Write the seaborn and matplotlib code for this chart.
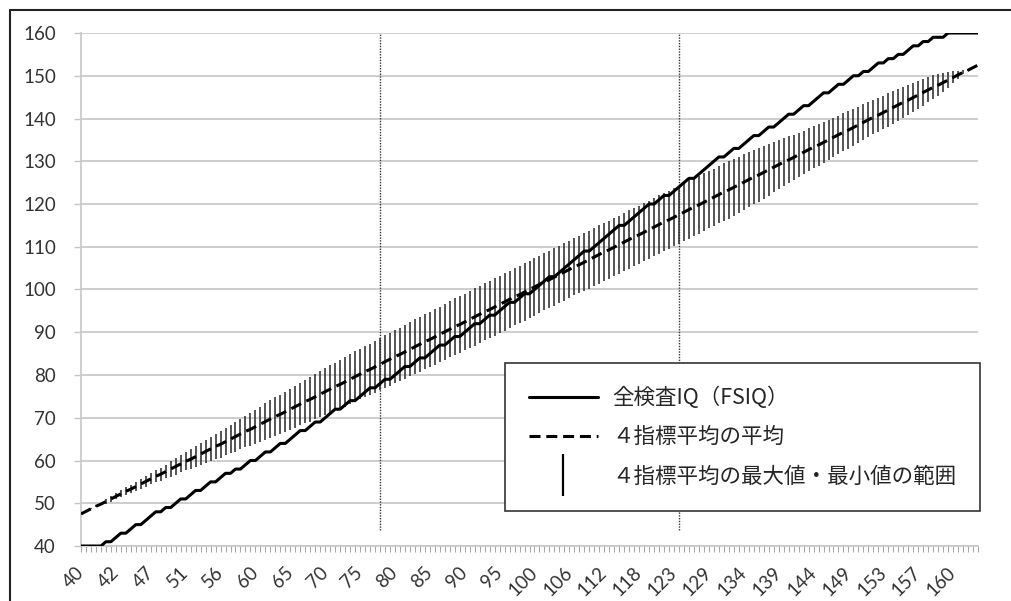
import numpy as np
import pandas as pd
import matplotlib
matplotlib.use('Agg')
import matplotlib.pyplot as plt
from matplotlib.lines import Line2D
from matplotlib.ticker import FixedLocator
import seaborn as sns

# one category per sum of scaled scores (10 .. 190)
sum_scores = list(range(10, 191))

# full scale IQ for each category
fsiq = [40, 40, 40, 40, 40, 41, 41, 42,
        43, 43, 44, 45, 45, 46, 47,
        48, 48, 49, 49, 50, 51, 51,
        52, 53, 53, 54, 55, 55, 56,
        57, 57, 58, 58, 59, 60, 60,
        61, 62, 62, 63, 64, 64, 65,
        66, 67, 67, 68, 69, 69, 70,
        71, 72, 72, 73, 74, 74, 75,
        76, 77, 77, 78, 79, 79, 80,
        81, 82, 82, 83, 84, 84, 85,
        86, 87, 87, 88, 89, 89, 90,
        91, 92, 92, 93, 94, 94, 95,
        96, 97, 97, 98, 99, 99, 100,
        101, 102, 103, 103, 104, 105, 106,
        107, 108, 109, 109, 110, 111, 112,
        113, 114, 115, 115, 116, 117, 118,
        119, 120, 120, 121, 122, 122, 123,
        124, 125, 126, 126, 127, 128, 129,
        130, 131, 131, 132, 133, 133, 134,
        135, 136, 136, 137, 138, 138, 139,
        140, 141, 141, 142, 143, 143, 144,
        145, 146, 146, 147, 148, 148, 149,
        150, 150, 151, 151, 152, 153, 153,
        154, 154, 155, 155, 156, 157, 157,
        158, 158, 159, 159, 159, 160, 160,
        160, 160, 160, 160, 160]

# mean of the four index means
idx_mean = [47.5, 48.1, 48.7, 49.3, 49.8, 50.4, 51.0, 51.6, 52.2, 52.8,
            53.3, 53.9, 54.5, 55.1, 55.7, 56.3, 56.8, 57.4, 58.0, 58.6,
            59.2, 59.8, 60.3, 60.9, 61.5, 62.1, 62.7, 63.3, 63.8, 64.4,
            65.0, 65.6, 66.2, 66.8, 67.3, 67.9, 68.5, 69.1, 69.7, 70.3,
            70.8, 71.4, 72.0, 72.6, 73.2, 73.8, 74.3, 74.9, 75.5, 76.1,
            76.7, 77.3, 77.8, 78.4, 79.0, 79.6, 80.2, 80.8, 81.3, 81.9,
            82.5, 83.1, 83.7, 84.3, 84.8, 85.4, 86.0, 86.6, 87.2, 87.8,
            88.3, 88.9, 89.5, 90.1, 90.7, 91.3, 91.8, 92.4, 93.0, 93.6,
            94.2, 94.8, 95.3, 95.9, 96.5, 97.1, 97.7, 98.3, 98.8, 99.4,
            100.0, 100.6, 101.2, 101.8, 102.3, 102.9, 103.5, 104.1, 104.7, 105.3,
            105.8, 106.4, 107.0, 107.6, 108.2, 108.8, 109.3, 109.9, 110.5, 111.1,
            111.7, 112.3, 112.8, 113.4, 114.0, 114.6, 115.2, 115.8, 116.3, 116.9,
            117.5, 118.1, 118.7, 119.3, 119.8, 120.4, 121.0, 121.6, 122.2, 122.8,
            123.3, 123.9, 124.5, 125.1, 125.7, 126.3, 126.8, 127.4, 128.0, 128.6,
            129.2, 129.8, 130.3, 130.9, 131.5, 132.1, 132.7, 133.3, 133.8, 134.4,
            135.0, 135.6, 136.2, 136.8, 137.3, 137.9, 138.5, 139.1, 139.7, 140.3,
            140.8, 141.4, 142.0, 142.6, 143.2, 143.8, 144.3, 144.9, 145.5, 146.1,
            146.7, 147.3, 147.8, 148.4, 149.0, 149.6, 150.2, 150.8, 151.3, 151.9, 152.5]

# half of the max-min range of the four index means
idx_half = [0.0, 0.0, 0.1, 0.2, 0.3, 0.5, 0.6, 0.7, 0.8, 0.9,
            1.0, 1.0, 1.1, 1.2, 1.3, 1.4, 1.5, 1.6, 1.8, 1.9,
            2.0, 2.1, 2.3, 2.4, 2.5, 2.7, 2.8, 2.9, 3.1, 3.2,
            3.3, 3.5, 3.6, 3.7, 3.9, 4.0, 4.1, 4.3, 4.4, 4.5,
            4.6, 4.7, 4.8, 4.9, 5.0, 5.1, 5.2, 5.3, 5.4, 5.5,
            5.6, 5.6, 5.7, 5.8, 5.8, 5.9, 5.9, 6.0, 6.0, 6.1,
            6.1, 6.2, 6.2, 6.2, 6.3, 6.3, 6.3, 6.4, 6.4, 6.4,
            6.5, 6.5, 6.5, 6.5, 6.6, 6.6, 6.6, 6.6, 6.6, 6.7,
            6.7, 6.7, 6.7, 6.7, 6.7, 6.7, 6.7, 6.7, 6.7, 6.7,
            6.7, 6.7, 6.7, 6.7, 6.7, 6.7, 6.7, 6.7, 6.7, 6.7,
            6.7, 6.8, 6.8, 6.8, 6.8, 6.8, 6.8, 6.8, 6.8, 6.8,
            6.8, 6.8, 6.8, 6.8, 6.8, 6.8, 6.8, 6.8, 6.8, 6.8,
            6.8, 6.8, 6.8, 6.8, 6.8, 6.8, 6.7, 6.7, 6.7, 6.7,
            6.7, 6.6, 6.6, 6.5, 6.5, 6.4, 6.3, 6.2, 6.1, 5.9,
            5.8, 5.6, 5.5, 5.3, 5.2, 5.0, 5.0, 4.9, 4.8, 4.8,
            4.7, 4.6, 4.5, 4.5, 4.4, 4.3, 4.2, 4.2, 4.1, 4.0,
            4.0, 3.9, 3.9, 3.8, 3.7, 3.6, 3.5, 3.4, 3.2, 3.1,
            2.9, 2.8, 2.5, 2.2, 1.8, 1.4, 1.0, 0.5, 0.2, 0.0, 0.0]

label_step = 7          # every 7th category gets a label
marker_cats = [60, 120]  # dotted reference lines

legend_labels = ['全検査IQ（FSIQ）', '４指標平均の平均', '４指標平均の最大値・最小値の範囲']

assert len(fsiq) == len(idx_mean) == len(idx_half) == len(sum_scores)

df = pd.DataFrame({'sum': sum_scores, 'fsiq': fsiq, 'mean': idx_mean, 'half': idx_half})
df['pos'] = np.arange(len(df))
df['lo'] = df['mean'] - df['half']
df['hi'] = df['mean'] + df['half']

sns.set_style('white')
plt.rcParams['font.family'] = ['Lato', 'Noto Sans CJK JP', 'DejaVu Sans']

fig = plt.figure(figsize=(10.11, 6.01), dpi=100)
W, H = 1011, 601
ax = fig.add_axes([81 / W, 55 / H, 897 / W, 513 / H])

ax.vlines(df['pos'], df['lo'], df['hi'], color='#2e2e2e', lw=1.15, zorder=2)
sns.lineplot(data=df, x='pos', y='fsiq', color='black', lw=2.2, ax=ax, zorder=4)
sns.lineplot(data=df, x='pos', y='mean', color='black', lw=2.2, ax=ax, zorder=3)
ax.lines[-1].set_dashes((3.6, 1.9))

for c in marker_cats:
    ax.vlines(c, 43.7, 160, color='#333333', lw=1.0, linestyles=(0, (1, 1)), zorder=1.5)

ax.set_xlim(0, len(df) - 1)
ax.set_ylim(40, 160)
ax.set_yticks(range(40, 161, 10))
ax.yaxis.grid(True, color='#c6c6c6', lw=1.2)
ax.xaxis.grid(False)
ax.set_axisbelow(True)

major = df['pos'][::label_step].tolist()
ax.set_xticks(major)
ax.set_xticklabels([str(v) for v in df['fsiq'][::label_step]], rotation=45,
                   ha='right', va='center', rotation_mode='anchor')
ax.xaxis.set_minor_locator(FixedLocator(df['pos'].tolist()))
ax.tick_params(axis='x', which='both', length=4, width=0.8, color='#a8a8a8',
               direction='out', bottom=True, labelsize=13.5, labelcolor='#333333', pad=13)
ax.tick_params(axis='y', length=5, width=1.0, color='#c6c6c6', left=True,
               labelsize=13.5, labelcolor='#333333', pad=13)
ax.set_xlabel('')
ax.set_ylabel('')

for s in ['top', 'right']:
    ax.spines[s].set_visible(False)
for s in ['left', 'bottom']:
    ax.spines[s].set_color('#c6c6c6')
    ax.spines[s].set_linewidth(1.2)

handles = [Line2D([], [], color='black', lw=2.2),
           Line2D([], [], color='black', lw=2.2, dashes=(3.6, 1.9)),
           Line2D([], [], color='black', marker='|', markersize=30, mew=1.6, linestyle='None')]
leg = ax.legend(handles, legend_labels, loc='upper left', bbox_to_anchor=(0.4727, 0.3567),
                borderaxespad=0, frameon=True, fancybox=False, framealpha=1, edgecolor='#333333',
                handlelength=3.2, handletextpad=0.7, labelspacing=0.8, borderpad=1.1,
                prop={'family': ['Noto Sans CJK JP', 'DejaVu Sans'], 'size': 15.5})
leg.get_frame().set_linewidth(1.2)

# outer frame of the picture
fig.add_artist(Line2D([10 / W, 1], [1 - 10 / H, 1 - 10 / H], transform=fig.transFigure,
                      color='#222222', lw=1.5))
fig.add_artist(Line2D([10 / W, 10 / W], [0, 1 - 10 / H], transform=fig.transFigure,
                      color='#222222', lw=1.5))

fig.savefig('out.png', dpi=100)
